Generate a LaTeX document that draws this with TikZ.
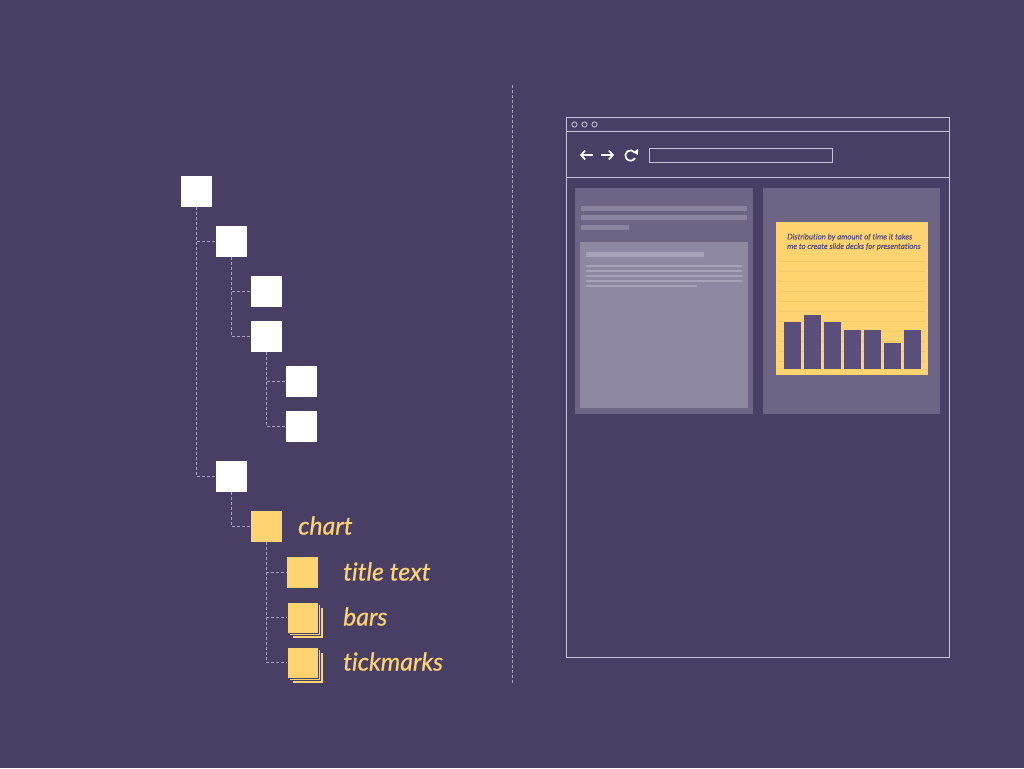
\documentclass[tikz,border=0pt]{standalone}
\usepackage{fontspec}
\setmainfont{Lato}
\newfontfamily\labelfont{Lato}[FakeBold=0.5, Ligatures=NoCommon]
\usetikzlibrary{shadows,arrows.meta}
\definecolor{bg}{HTML}{493F65}
\definecolor{hue}{HTML}{FFD470}
\definecolor{wire}{HTML}{A9A2C0}
\definecolor{frame}{HTML}{C9C3D9}
\definecolor{card}{HTML}{6E6586}
\definecolor{panel}{HTML}{8E88A2}
\definecolor{stripe}{HTML}{8B84A1}
\definecolor{pline}{HTML}{A7A1B9}
\definecolor{barc}{HTML}{5A4F7B}
\definecolor{gridc}{HTML}{F2C868}
\tikzset{
  elem/.style={fill=white, minimum size=31pt, inner sep=0pt, outer sep=0pt},
  leaf/.style={fill=hue, draw=bg, line width=0.6pt, minimum size=31pt, inner sep=0pt, outer sep=0pt},
  stack/.style={leaf, double copy shadow={shadow xshift=2.5pt, shadow yshift=-2.5pt}},
  link/.style={draw=wire, line width=0.8pt, dash pattern=on 3pt off 2pt},
  tag/.style={text=hue, font=\labelfont\itshape\fontsize{24.8}{28}\selectfont, anchor=west, inner sep=0pt},
  outline/.style={draw=frame, line width=1pt},
  navarrow/.style={white, line width=1.7pt, -{Straight Barb[length=4pt,width=9pt,line width=1.7pt]}}
}
\begin{document}
\begin{tikzpicture}[x=1pt,y=-1pt]
\useasboundingbox (0,0) rectangle (1024,768);
\fill[bg] (0,0) rectangle (1024,768);

% document tree
\node[elem] (n1) at (196.5,191.5) {};
\node[elem] (n2) at (231.5,241.5) {};
\node[elem] (n3) at (266.5,291.5) {};
\node[elem] (n4) at (266.5,336.5) {};
\node[elem] (n5) at (301.5,381.5) {};
\node[elem] (n6) at (301.5,426.5) {};
\node[elem] (n7) at (231.5,476.5) {};
\node[leaf,draw=none] (chart) at (266.5,526.5) {};
\node[leaf,draw=none] (ttl) at (302.5,572.5) {};
\node[stack] (bars) at (302.5,617.5) {};
\node[stack] (ticks) at (302.5,662.5) {};

\path[link] (n1.south) |- (n2.west);
\path[link] (n1.south) |- (n7.west);
\path[link] (n2.south) |- (n3.west);
\path[link] (n2.south) |- (n4.west);
\path[link] (n4.south) |- (n5.west);
\path[link] (n4.south) |- (n6.west);
\path[link] (n7.south) |- (chart.west);
\path[link] (chart.south) |- (ttl.west);
\path[link] (chart.south) |- (bars.west);
\path[link] (chart.south) |- (ticks.west);

\node[tag] (lchart) at ([xshift=16pt,yshift=1pt]chart.east) {chart};
\node[tag] (lttl) at ([xshift=25pt,yshift=1pt]ttl.east) {title text};
\node[tag] (lbars) at ([xshift=25pt,yshift=1pt]bars.east) {bars};
\node[tag] (lticks) at ([xshift=25pt,yshift=1pt]ticks.east) {tickmarks};

% divider
\coordinate (dtop) at (512.5,85);
\coordinate (dbot) at (512.5,683);
\draw[link] (dtop) -- (dbot);

% browser window
\draw[outline] (566,117) rectangle (949,657);
\draw[outline] (566,131) -- (949,131);
\draw[outline] (566,177) -- (949,177);
\foreach \x in {574.5,584.5,594.5}
  \draw[draw=frame, line width=0.8pt] (\x,124.5) circle (2.6pt);
\draw[draw=frame, line width=0.9pt] (649,148) rectangle (832,162);
% navigation glyphs
\draw[navarrow] (593,155) -- (580,155);
\draw[navarrow] (601,155) -- (614,155);
\begin{scope}[shift={(630.5,155.5)}, y=1pt]
  \draw[white, line width=1.7pt] (35:5.2) arc[start angle=35, end angle=330, radius=5.2];
  \fill[white] (2.6,3.2) -- (7.6,6.6) -- (7.4,0.6) -- cycle;
\end{scope}

% text page card
\fill[card] (575,188) rectangle (753,414);
\fill[stripe] (581,206) rectangle (747,211);
\fill[stripe] (581,215) rectangle (747,220);
\fill[stripe] (581,225) rectangle (629,230);
\fill[panel] (580,242) rectangle (748,408);
\fill[pline] (586,252) rectangle (704,256.5);
\foreach \y in {265,270,275,280}
  \fill[pline] (586,\y) rectangle (742,\y+2);
\fill[pline] (586,285) rectangle (697,287);

% chart card
\fill[card] (763,188) rectangle (940,414);
\fill[hue] (776,222) rectangle (928,375);
\foreach \y in {261,271,...,361}
  \draw[gridc, line width=0.5pt] (779,\y) -- (925,\y);
\node[text=barc, font=\labelfont\itshape\fontsize{7.8}{9.5}\selectfont, align=left, anchor=north west, inner sep=0pt] (ctitle) at (787,233.5)
  {Distribution by amount of time it takes\\me to create slide decks for presentations};
\foreach \x/\t in {784/322, 804/315, 824/322, 844/330, 864/330, 884/343, 904/330}
  \fill[barc] (\x,\t) rectangle (\x+17,369);
\end{tikzpicture}
\end{document}
